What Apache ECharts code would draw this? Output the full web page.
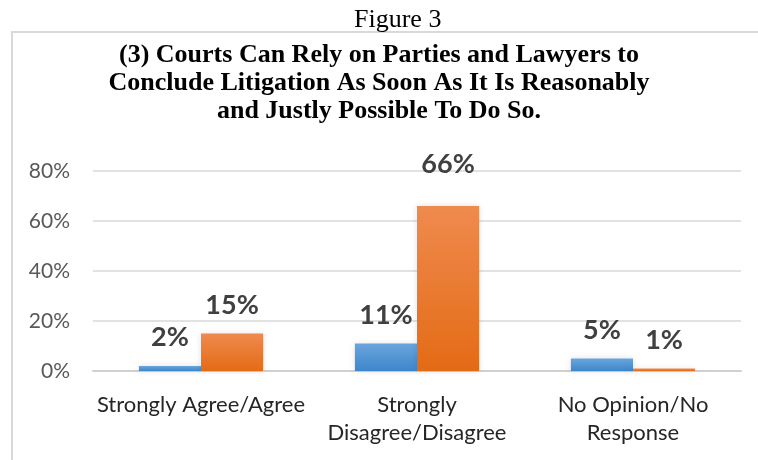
<!DOCTYPE html>
<html>
<head>
<meta charset="utf-8">
<script src="https://cdn.jsdelivr.net/npm/echarts@6/dist/echarts.min.js"></script>
<style>
	html, body { margin: 0; padding: 0; background: #fff; }
	#chart { width: 758px; height: 460px; }
</style>
</head>
<body>
<div id="chart"></div>
<script>
// chart data
const categories = ['Strongly Agree/Agree', 'Strongly\nDisagree/Disagree', 'No Opinion/No\nResponse']
const seriesBlue = [2, 11, 5]
const seriesOrange = [15, 66, 1]
const yTicks = [0, 20, 40, 60, 80]

const chart = echarts.init(document.getElementById('chart'))

const labelStyle = {
	show: true,
	position: 'top',
	distance: 15,
	formatter: '{c}%',
	fontFamily: 'Lato',
	fontWeight: 'bold',
	fontSize: 27,
	color: '#404040'
}

// the tall bar's label sits a bit higher in the original
const orangeData = seriesOrange.map((v, i) => (
	i === 1 ? { value: v, label: { distance: 28 } } : v
))

const options = {
	animation: false,
	backgroundColor: '#fff',
	title: [
		{
			text: 'Figure 3',
			left: 349,
			top: 2,
			textStyle: {
				fontFamily: 'Liberation Serif',
				fontWeight: 'normal',
				fontSize: 26,
				color: '#000'
			}
		},
		{
			text: '(3) Courts Can Rely on Parties and Lawyers to\nConclude Litigation As Soon As It Is Reasonably\nand Justly Possible To Do So.',
			left: 'center',
			top: 36,
			textStyle: {
				fontFamily: 'Liberation Serif',
				fontWeight: 'bold',
				fontSize: 26,
				lineHeight: 28,
				align: 'center',
				color: '#000'
			}
		}
	],
	graphic: [
		{
			type: 'polyline',
			shape: { points: [[12, 460], [12, 32], [758, 32]] },
			style: { stroke: '#d9d9d9', lineWidth: 2, fill: null }
		}
	],
	grid: {
		left: 93,
		right: 17,
		top: 171,
		bottom: 89
	},
	xAxis: {
		type: 'category',
		data: categories,
		axisTick: { show: false },
		axisLine: { lineStyle: { color: '#d0d0d0', width: 2 } },
		axisLabel: {
			interval: 0,
			fontFamily: 'Lato',
			fontSize: 22,
			lineHeight: 28,
			color: '#262626',
			margin: 20
		}
	},
	yAxis: {
		type: 'value',
		min: yTicks[0],
		max: yTicks[yTicks.length - 1],
		interval: 20,
		axisLine: { show: false },
		axisTick: { show: false },
		splitLine: { lineStyle: { color: '#d9d9d9', width: 1.5 } },
		axisLabel: {
			formatter: '{value}%',
			fontFamily: 'Lato',
			fontSize: 21,
			color: '#595959',
			margin: 23
		}
	},
	series: [
		{
			name: 'blue',
			type: 'bar',
			data: seriesBlue,
			barGap: '0%',
			barCategoryGap: '42.5%',
			itemStyle: {
				color: new echarts.graphic.LinearGradient(0, 0, 0, 1, [
					{ offset: 0, color: '#6aa5dc' },
					{ offset: 1, color: '#3d86cc' }
				]),
				shadowBlur: 6,
				shadowColor: 'rgba(0,0,0,0.12)'
			},
			label: labelStyle
		},
		{
			name: 'orange',
			type: 'bar',
			data: orangeData,
			barGap: '0%',
			barCategoryGap: '42.5%',
			itemStyle: {
				color: new echarts.graphic.LinearGradient(0, 0, 0, 1, [
					{ offset: 0, color: '#ef8a4e' },
					{ offset: 1, color: '#e46b15' }
				]),
				shadowBlur: 6,
				shadowColor: 'rgba(0,0,0,0.12)'
			},
			label: labelStyle
		}
	]
}

chart.setOption(options)
</script>
</body>
</html>
